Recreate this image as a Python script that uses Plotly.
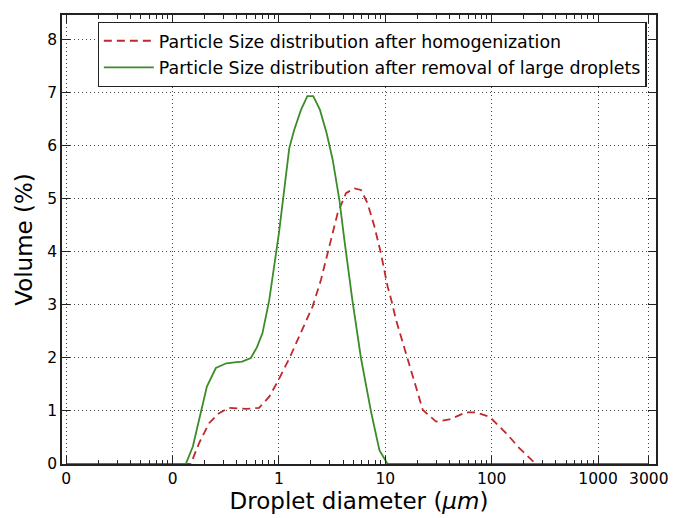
import plotly.graph_objects as go

# Particle size distribution after homogenization (red dashed)
x_homog = [0.01, 0.05, 0.1, 0.148, 0.178, 0.22, 0.274, 0.34, 0.49, 0.65, 0.81, 0.97,
           1.25, 1.55, 2.07, 2.48, 2.98, 3.56, 4.27, 5.12, 5.9, 6.8, 7.9, 9.1,
           10.5, 11.4, 12.6, 14.6, 18.1, 22.5, 30, 40, 57.5, 71.6, 95.5, 137,
           182, 234, 260, 1000, 3000]
y_homog = [0, 0, 0, 0, 0.40, 0.77, 0.96, 1.06, 1.04, 1.06, 1.27, 1.55,
           1.99, 2.40, 2.97, 3.47, 4.10, 4.73, 5.11, 5.20, 5.17, 4.92, 4.48, 3.97,
           3.35, 3.09, 2.72, 2.28, 1.65, 1.02, 0.80, 0.84, 0.975, 0.975, 0.89, 0.58,
           0.30, 0.075, 0, 0, 0]

# Particle size distribution after removal of large droplets (green solid)
x_removal = [0.01, 0.02, 0.05, 0.1, 0.133, 0.155, 0.184, 0.21, 0.255, 0.32, 0.4, 0.45,
             0.544, 0.62, 0.70, 0.81, 1.0, 1.25, 1.39, 1.61, 1.85, 2.1, 2.43, 2.8,
             3.2, 3.7, 4.12, 4.9, 5.9, 7.35, 8.8, 10.5, 20, 100, 1000, 3000]
y_removal = [0, 0, 0, 0, 0, 0.33, 0.98, 1.46, 1.81, 1.90, 1.92, 1.93,
             2.00, 2.20, 2.47, 3.09, 4.36, 5.96, 6.30, 6.68, 6.94, 6.94, 6.68, 6.25,
             5.74, 4.98, 4.23, 3.09, 2.00, 0.98, 0.26, 0, 0, 0, 0, 0]

x_tickvals = [0.01, 0.1, 1, 10, 100, 1000, 3000]
x_ticktext = ["0", "0", "1", "10", "100", "1000", "3000"]
x_minor = [m * 10 ** e for e in (-2, -1, 0, 1, 2) for m in range(2, 10)]
y_tickvals = [0, 1, 2, 3, 4, 5, 6, 7, 8]

name_homog = "Particle Size distribution after homogenization"
name_removal = "Particle Size distribution after removal of large droplets"

FONT = "DejaVu Sans"
GRID = dict(showgrid=True, gridcolor="#444", griddash="1.3px,2.7px", gridwidth=1)

fig = go.Figure()
fig.add_trace(go.Scatter(x=x_homog, y=y_homog, mode="lines", name=name_homog,
                         legendgroup="a",
                         line=dict(color="#c0282a", width=1.8, dash="8px,5px")))
fig.add_trace(go.Scatter(x=x_removal, y=y_removal, mode="lines", name=name_removal,
                         legendgroup="b",
                         line=dict(color="#3c8c28", width=1.8)))

fig.update_layout(
    width=680, height=518,
    margin=dict(l=62, r=24, t=15, b=54),
    paper_bgcolor="white", plot_bgcolor="white",
    font=dict(family=FONT, size=15, color="black"),
    showlegend=True,
    legend=dict(x=0.06, y=0.985, xanchor="left", yanchor="top",
                bordercolor="#222", borderwidth=1.2, bgcolor="white",
                font=dict(family=FONT, size=17.4), tracegroupgap=1,
                itemwidth=50),
    xaxis=dict(
        type="log", range=[-2.04, 3.545], automargin=False,
        tickmode="array", tickvals=x_tickvals, ticktext=x_ticktext,
        ticks="inside", ticklen=8, tickwidth=1, tickcolor="#222",
        showline=True, linecolor="#222", linewidth=1.5, mirror="allticks",
        zeroline=False,
        tickfont=dict(family=FONT, size=15.5),
        minor=dict(tickmode="array", tickvals=x_minor, ticks="inside",
                   ticklen=4, tickcolor="#222", showgrid=False),
        title=dict(text="Droplet diameter (<i>μm</i>)", font=dict(family=FONT, size=23),
                   standoff=6),
        **GRID,
    ),
    yaxis=dict(
        range=[0, 8.47], automargin=False,
        tickmode="array", tickvals=y_tickvals,
        ticks="inside", ticklen=8, tickwidth=1, tickcolor="#222",
        showline=True, linecolor="#222", linewidth=1.5, mirror="allticks",
        zeroline=False,
        tickfont=dict(family=FONT, size=15.5),
        title=dict(text="Volume (%)", font=dict(family=FONT, size=23), standoff=8),
        **GRID,
    ),
)

fig.write_html("out.html", config={"displayModeBar": False},
               post_script="document.body.style.margin='0';document.body.style.overflow='hidden';")
